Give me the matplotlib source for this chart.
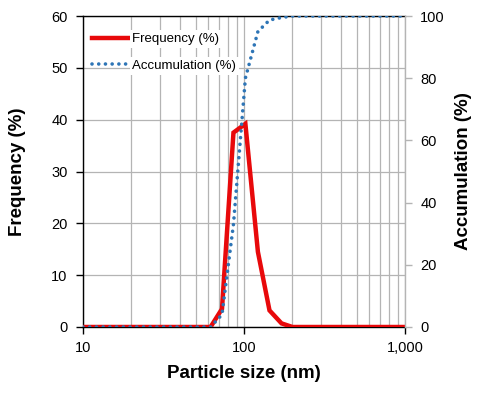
import matplotlib
matplotlib.use("Agg")
import matplotlib.pyplot as plt
from matplotlib.ticker import FixedLocator, FuncFormatter, NullFormatter, LogLocator

plt.rcParams['font.family'] = ['Liberation Sans', 'DejaVu Sans']

# Data
size_nm = [10, 62, 73, 86, 102, 122, 144, 171, 200, 1000]
frequency = [0, 0, 3.5, 37.5, 39.2, 14.5, 3.2, 0.7, 0, 0]
accumulation = [0, 0, 4, 33, 80, 95, 98.7, 99.5, 100, 100]

freq_ticks = [0, 10, 20, 30, 40, 50, 60]
acc_ticks = [0, 20, 40, 60, 80, 100]
x_ticks = [10, 100, 1000]
x_tick_labels = ["10", "100", "1,000"]

red = "#E8090B"
blue = "#2E75B6"
grid_c = "#B4B4B4"

fig = plt.figure(figsize=(4.82, 3.98), dpi=100)
ax = fig.add_axes([83/482, 1-327/398, (405-83)/482, (327-16)/398])
ax2 = ax.twinx()

l1, = ax.plot(size_nm, frequency, color=red, lw=3.2, solid_joinstyle='miter', zorder=3,
              label="Frequency (%)")
l2, = ax2.plot(size_nm, accumulation, color=blue, lw=2.6, linestyle=(0, (0.01, 1.85)),
               dash_capstyle='round', zorder=4, label="Accumulation (%)")

ax.set_xscale('log')
ax.set_xlim(10, 1000)
ax.set_ylim(0, 60)
ax2.set_ylim(0, 100)

ax.xaxis.set_major_locator(FixedLocator(x_ticks))
ax.xaxis.set_major_formatter(FuncFormatter(lambda v, p: x_tick_labels[x_ticks.index(round(v))] if round(v) in x_ticks else ""))
ax.xaxis.set_minor_locator(LogLocator(base=10, subs=range(2, 10)))
ax.xaxis.set_minor_formatter(NullFormatter())
ax.set_yticks(freq_ticks)
ax2.set_yticks(acc_ticks)

ax.grid(True, which='both', axis='x', color=grid_c, lw=0.9)
ax.grid(True, which='major', axis='y', color=grid_c, lw=0.9)
ax.set_axisbelow(True)

ax.tick_params(axis='x', which='major', direction='out', length=5, width=1, pad=5, labelsize=10.5, colors='#000000')
ax.tick_params(axis='x', which='minor', length=0)
ax.tick_params(axis='y', direction='out', length=5, width=1, pad=6, labelsize=10.5)
ax2.tick_params(axis='y', direction='out', length=5, width=1, pad=6, labelsize=10.5, color=grid_c)

for s in ['left', 'bottom', 'top']:
    ax.spines[s].set_color('black')
    ax.spines[s].set_linewidth(1)
ax.spines['right'].set_visible(False)
ax2.spines['right'].set_color(grid_c)
ax2.spines['right'].set_linewidth(1)
for s in ['left', 'bottom', 'top']:
    ax2.spines[s].set_visible(False)

ax.set_xlabel("Particle size (nm)", fontsize=13.5, fontweight='bold')
ax.set_ylabel("Frequency (%)", fontsize=13.5, fontweight='bold')
ax2.set_ylabel("Accumulation (%)", fontsize=13.5, fontweight='bold', rotation=90)
ax.xaxis.set_label_coords(0.5, -0.122)
ax.yaxis.set_label_coords(-0.178, 0.5)
ax2.yaxis.set_label_coords(1.155, 0.5)

leg = ax2.legend(handles=[l1, l2], loc='upper left', bbox_to_anchor=(0.0, 0.975),
                 frameon=False, fontsize=9.5, handlelength=3.0, handletextpad=0.05,
                 labelspacing=1.1, borderaxespad=0.3)
for t in leg.get_texts():
    t.set_bbox(dict(facecolor='white', edgecolor='none', pad=2))

fig.savefig("out.png", dpi=100)
